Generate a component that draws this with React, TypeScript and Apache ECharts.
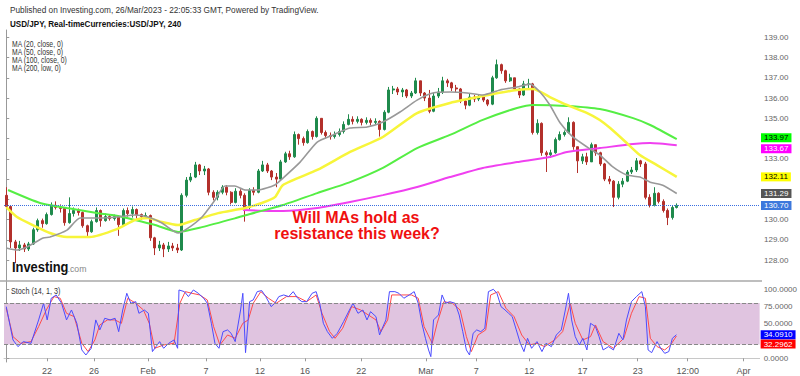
import { useEffect, useRef } from 'react';
import * as echarts from 'echarts';

// ---- Data (8-hour bars; bar index 0 = first bar) ----
const firstOpen = 131.2;
const closes = [
  130.65, 128.9, 128.6, 128.75, 128.55, 128.8, 129.5, 129.95, 129.8, 130.25,
  130.7, 130.6, 130.55, 129.85, 130.3, 130.45, 130.35, 129.7, 129.4, 129.9,
  130.45, 129.95, 130.15, 130.05, 130.15, 129.75, 130.45, 130.3, 130.5, 130.25,
  130.15, 130.2, 129.1, 128.6, 128.75, 128.55, 128.7, 128.6, 128.5, 131.2,
  131.95, 132.1, 132.7, 132.4, 132.5, 131.35, 131.1, 131.35, 131.6, 131.35,
  130.85, 131.4, 131.2, 130.6, 131.45, 131.35, 132.4, 132.7, 132.4, 132.1,
  132.0, 132.85, 133.25, 133.1, 134.2, 134.0, 133.8, 134.35, 134.1, 135.0,
  134.3, 134.15, 134.1, 134.2, 134.35, 134.7, 134.95, 134.85, 134.95, 134.8,
  134.9, 134.8, 134.85, 134.45, 135.3, 136.4, 136.45, 136.3, 136.4, 136.1,
  136.25, 136.85, 136.25, 136.0, 135.35, 136.1, 136.3, 136.85, 136.75, 136.5,
  136.45, 135.85, 135.65, 136.05, 135.95, 136.05, 135.9, 135.7, 137.0, 137.65,
  137.35, 136.85, 137.0, 136.45, 136.15, 136.7, 136.7, 134.3, 134.75, 133.3,
  133.2, 133.3, 133.95, 134.2, 134.3, 134.8, 133.6, 132.9, 133.1, 132.85,
  133.7, 133.3, 132.75, 132.0, 131.9, 131.1, 131.75, 131.9, 132.35, 132.45,
  132.9, 132.75, 131.1, 130.7, 131.3, 130.9, 130.45, 130.1, 130.6, 130.7,
];
const highs = [
  131.6, 130.7, 129.0, 128.95, 128.85, 128.9, 129.6, 130.05, 130.05, 130.35,
  130.85, 130.9, 130.75, 130.6, 131.1, 130.6, 130.55, 130.4, 129.75, 130.0,
  130.6, 130.5, 130.3, 130.25, 130.25, 130.2, 130.55, 130.6, 130.65, 130.55,
  130.3, 130.35, 130.25, 129.15, 128.95, 128.85, 128.9, 128.85, 128.8, 131.3,
  132.1, 132.3, 132.85, 132.75, 132.65, 132.55, 131.45, 131.45, 131.7, 131.7,
  131.4, 131.55, 131.5, 131.3, 131.55, 131.6, 132.5, 132.9, 132.8, 132.45,
  132.3, 132.95, 133.35, 133.4, 134.35, 134.25, 134.1, 134.45, 134.4, 135.1,
  135.0, 134.4, 134.3, 134.35, 134.5, 134.85, 135.2, 135.1, 135.1, 135.0,
  135.05, 135.0, 135.0, 134.9, 135.4, 136.55, 136.6, 136.55, 136.5, 136.45,
  136.35, 137.0, 136.85, 136.3, 136.4, 136.25, 136.5, 137.05, 136.95, 136.8,
  136.65, 136.5, 135.95, 136.2, 136.15, 136.2, 136.1, 135.95, 137.1, 137.9,
  137.7, 137.4, 137.2, 137.0, 136.5, 136.85, 136.95, 136.75, 134.95, 134.8,
  133.4, 133.45, 134.05, 134.35, 134.4, 135.05, 134.85, 133.6, 133.25, 133.3,
  133.8, 133.7, 133.35, 132.8, 132.15, 131.95, 131.9, 132.05, 132.45, 132.6,
  133.04, 132.95, 132.85, 131.25, 131.6, 131.35, 131.0, 130.55, 130.7, 130.8,
];
const lows = [
  130.55, 128.6, 127.85, 128.45, 128.4, 128.45, 128.75, 129.4, 129.6, 129.75,
  130.2, 130.5, 130.35, 129.7, 129.8, 130.15, 130.2, 129.6, 129.1, 129.35,
  129.85, 129.65, 129.9, 129.95, 129.95, 129.2, 129.7, 130.15, 130.1, 130.05,
  130.0, 130.05, 128.95, 128.25, 128.45, 128.15, 128.4, 128.45, 128.35, 128.45,
  131.1, 131.85, 132.05, 132.2, 132.2, 131.2, 130.95, 130.95, 131.25, 131.2,
  130.75, 130.8, 131.05, 129.9, 130.5, 131.2, 131.3, 132.35, 132.3, 131.95,
  131.6, 131.95, 132.8, 132.95, 133.05, 133.7, 133.65, 133.75, 133.95, 134.05,
  134.2, 134.0, 133.95, 134.0, 134.1, 134.25, 134.65, 134.7, 134.75, 134.65,
  134.7, 134.65, 134.7, 134.1, 134.4, 135.25, 136.2, 136.15, 136.05, 136.0,
  136.0, 136.2, 136.1, 135.85, 135.25, 135.3, 136.0, 136.2, 136.55, 136.35,
  136.3, 135.75, 135.45, 135.6, 135.8, 135.85, 135.8, 135.6, 135.65, 136.95,
  137.2, 136.75, 136.8, 136.35, 136.0, 136.1, 136.45, 134.2, 134.2, 133.15,
  132.35, 133.05, 133.25, 133.9, 134.1, 134.25, 133.45, 132.3, 132.75, 132.7,
  132.85, 133.15, 132.65, 131.9, 131.75, 130.62, 131.0, 131.6, 131.85, 132.25,
  132.35, 132.6, 131.0, 130.6, 130.65, 130.8, 130.35, 129.73, 130.0, 130.55,
];

// Moving averages: [bar index, value]
const ma20: [number, number][] = [
  [0, 128.6], [2.4, 128.5], [4.6, 128.65], [8.2, 129.09], [9.7, 129.14], [13.5, 129.48],
  [16.4, 130.08], [20.8, 130.08], [24.6, 130.13], [28.6, 130.23], [31.5, 130.13],
  [34.6, 129.83], [38.2, 129.34], [40.4, 129.58], [43.5, 130.13], [46.4, 130.97],
  [48.6, 131.66], [50.8, 131.66], [53.1, 131.46], [55.9, 131.46], [59.7, 131.71],
  [61.5, 132.05], [65.3, 132.84], [69.1, 133.83], [72.6, 134.18], [76.4, 134.52],
  [80.2, 134.57], [83.7, 134.82], [87.5, 135.31], [91.3, 135.9], [94.8, 136.25],
  [98.6, 136.3], [102.4, 136.25], [105.9, 136.15], [109.7, 136.4], [113.5, 136.55],
  [116.4, 136.69], [118.6, 136.3], [120.8, 135.66], [123.1, 134.77], [125.9, 134.08],
  [129.1, 133.58], [131.9, 133.19], [134.8, 132.6], [137.9, 132.2], [140.8, 132.1],
  [143.1, 131.85], [145.9, 131.7], [149, 131.29],
];
const ma50: [number, number][] = [
  [0, 130.62], [2.4, 130.13], [5.9, 129.73], [9.7, 129.34], [13.5, 129.14], [18.6, 129.14],
  [24.6, 129.53], [28.6, 129.98], [31.5, 130.08], [34.6, 129.88], [38.2, 129.73],
  [41.9, 129.98], [47.1, 130.32], [53.1, 130.57], [56.8, 130.82], [59.7, 131.11],
  [61.5, 131.71], [69.1, 132.45], [76.4, 133.34], [83.7, 134.08], [91.3, 135.26],
  [98.6, 135.76], [105.9, 136.1], [113.5, 136.4], [117.1, 136.45], [120.8, 136.05],
  [124.6, 135.66], [129.1, 135.26], [131.9, 134.92], [134.2, 134.52], [137.9, 133.78],
  [140.8, 133.19], [144.6, 132.69], [149, 132.11],
];
const ma100: [number, number][] = [
  [0.4, 131.46], [7.5, 130.82], [13.5, 130.57], [20.8, 130.3], [24.2, 130.2],
  [28.6, 129.98], [33.1, 129.73], [38.2, 129.39], [43.5, 129.63], [50.8, 130.06],
  [54.2, 130.28], [61.5, 130.72], [69.1, 131.31], [76.4, 131.85], [83.7, 132.55],
  [91.3, 133.53], [98.6, 134.18], [105.9, 134.92], [113.5, 135.51], [117.1, 135.66],
  [124.6, 135.61], [131.9, 135.46], [139.3, 135.01], [143.1, 134.67], [149, 133.97],
];
const ma200: [number, number][] = [
  [52.6, 130.47], [61.5, 130.42], [69.1, 130.57], [76.4, 130.87], [83.7, 131.21],
  [91.3, 131.61], [98.6, 132.1], [105.9, 132.55], [113.5, 132.84], [120.8, 133.09],
  [124.6, 133.34], [131.9, 133.53], [139.3, 133.73], [143.1, 133.78], [149, 133.67],
];

// Stochastic (14, 1, 3): %K (blue) and %D (red), [bar index, value]
const stochK: [number, number][] = [
  [0, 74.9], [1.5, 26.6], [2.6, 16.9], [3.8, 24.2], [5.5, 21.7], [7.2, 55.6], [8.3, 79.7],
  [9.1, 55.6], [10, 87.0], [11.1, 91.8], [12.3, 79.7], [13.4, 55.6], [14.5, 70.0],
  [15.7, 50.7], [16.8, 12.1], [17.7, 4.8], [18.9, 14.5], [19.9, 55.6], [20.8, 41.1],
  [21.9, 58.0], [23.1, 55.6], [24.2, 58.0], [25, 38.6], [25.9, 70.0], [26.8, 94.2],
  [27.7, 79.7], [28.8, 82.1], [29.5, 65.2], [30.7, 70.0], [31.6, 65.2], [32.5, 9.7],
  [33.3, 16.9], [34.1, 24.2], [35, 14.5], [36.1, 21.7], [37.3, 26.6], [38.1, 14.5],
  [38.4, 99.0], [39.6, 96.6], [40.5, 89.4], [41.6, 99.0], [42.7, 94.2], [43.9, 87.0],
  [44.7, 79.7], [45.6, 50.7], [46.4, 21.7], [47.3, 14.5], [48.2, 38.6], [49.2, 41.1],
  [50, 36.2], [50.9, 24.2], [52.1, 70.0], [52.6, 94.2], [53.2, 8.2], [54.1, 82.1],
  [54.9, 84.5], [55.8, 96.6], [56.8, 98.1], [57.7, 89.4], [58.9, 74.9], [59.7, 79.7],
  [60.6, 89.4], [61.7, 91.8], [62.8, 89.4], [63.8, 96.6], [64.8, 87.0], [65.7, 82.1],
  [66.8, 82.1], [68, 94.2], [68.9, 96.6], [69.7, 79.7], [70.5, 50.7], [71.4, 38.6],
  [72.5, 29.0], [73.6, 36.2], [75, 53.1], [76.3, 70.0], [77.1, 79.7], [78.2, 65.2],
  [79.3, 70.0], [80.2, 55.6], [81, 67.6], [82.2, 60.4], [83, 33.8], [83.6, 43.5],
  [84.4, 55.6], [85.2, 96.6], [86.4, 96.6], [87.3, 94.2], [88.4, 87.0], [89.6, 91.8],
  [90.7, 96.6], [91.6, 79.7], [92.4, 50.7], [93.2, 29.0], [93.9, 12.1], [94.4, 2.4],
  [95, 55.6], [96.1, 62.8], [96.9, 91.8], [97.7, 79.7], [98.6, 82.1], [99.8, 79.7],
  [100.7, 62.8], [101.5, 38.6], [102.3, 12.1], [103, 4.8], [103.8, 36.2], [104.6, 41.1],
  [105.5, 38.6], [106.4, 43.5], [107.2, 96.6], [108.3, 100], [109.1, 94.2], [110, 74.9],
  [110.9, 70.0], [111.7, 65.2], [112.5, 60.4], [113.4, 41.1], [114.3, 21.7], [115.1, 9.7],
  [115.9, 29.0], [116.8, 14.5], [118, 24.2], [119.1, 9.7], [120, 21.7], [121.2, 16.9],
  [122.3, 33.8], [123.4, 41.1], [124.3, 70.0], [125, 94.2], [125.7, 55.6], [126.5, 31.4],
  [127.4, 19.3], [128.2, 29.0], [129.1, 12.1], [129.9, 50.7], [131, 45.9], [131.8, 31.4],
  [132.7, 12.1], [133.9, 16.9], [135, 12.1], [136.2, 36.2], [137.1, 26.6], [137.9, 55.6],
  [139, 82.1], [140.1, 89.4], [141.3, 96.6], [142.1, 74.9], [142.7, 12.1], [143.5, 8.2],
  [144.7, 24.2], [145.5, 14.5], [146.4, 7.2], [147.3, 9.7], [148.1, 29.0], [149, 34.091],
];
const stochD: [number, number][] = [
  [0, 72.5], [1.5, 31.4], [3.2, 21.7], [5.5, 24.2], [7.2, 45.9], [8.9, 70.0], [10.6, 89.4],
  [12, 87.0], [13.4, 65.2], [15.1, 60.4], [16.8, 21.7], [18.2, 9.7], [19.7, 26.6],
  [20.8, 48.3], [22.5, 55.6], [24.2, 55.6], [25.6, 50.7], [27, 87.0], [28.8, 79.7],
  [30.5, 70.0], [31.8, 50.7], [33, 14.5], [35, 19.3], [37.3, 21.7], [38.6, 79.7],
  [39.8, 96.6], [41.3, 94.2], [43, 91.8], [44.7, 84.5], [46.1, 45.9], [47.5, 19.3],
  [49.2, 33.8], [50.9, 29.0], [52.6, 50.7], [53.8, 55.6], [54.9, 79.7], [56.6, 96.6],
  [58.3, 87.0], [60, 79.7], [62.3, 89.4], [64.6, 89.4], [66.8, 82.1], [68.9, 91.8],
  [70.2, 65.2], [71.9, 38.6], [73.1, 29.0], [74.8, 43.5], [76.8, 74.9], [78.8, 70.0],
  [80.5, 62.8], [82.2, 55.6], [83.3, 38.6], [84.8, 55.6], [85.7, 91.8], [87.9, 91.8],
  [90.1, 91.8], [91.6, 87.0], [92.9, 45.9], [94.7, 21.7], [95.8, 50.7], [97.3, 82.1],
  [99.2, 79.7], [100.9, 70.0], [102.3, 31.4], [103.4, 9.7], [104.9, 33.8], [106.6, 41.1],
  [107.7, 91.8], [109.4, 96.6], [111.1, 72.5], [112.9, 60.4], [114.6, 33.8], [116.3, 19.3],
  [118, 21.7], [119.7, 16.9], [121.9, 26.6], [123.7, 38.6], [125.4, 79.7], [126.5, 50.7],
  [128.2, 26.6], [129.9, 31.4], [131, 48.3], [132.7, 24.2], [135, 14.5], [137.3, 29.0],
  [139, 65.2], [140.7, 89.4], [142.1, 87.0], [143.2, 29.0], [144.7, 16.9], [146.4, 12.1],
  [147.7, 19.3], [149, 32.2962],
];

const slotCount = 168;
const xTickPos = [9.06, 19.5, 31.5, 44.4, 56.4, 66.4, 78.9, 93.3, 104.5, 116.3, 128.1, 140.4, 151.5, 163.9];
const xTickLabels = ['22', '26', 'Feb', '7', '12', '16', '22', 'Mar', '7', '12', '17', '23', '12:00', 'Apr'];
const priceTickMarks = [128, 129, 130, 131, 132, 133, 134, 135, 136, 137, 138, 139];
const priceTickLabels = [128, 129, 130, 133, 135, 136, 137, 138, 139];
const stochTicks = [0, 50, 75, 100];
const lastPrice = 130.7;
const lastMa20 = 131.29;
const lastMa50 = 132.11;
const lastMa100 = 133.97;
const lastMa200 = 133.67;
const lastK = 34.091;
const lastD = 32.2962;
const bandLow = 20;
const bandHigh = 80;

const FONT = "'Liberation Sans', Arial, sans-serif";

function badge(value: number, text: string, bg: string, fg: string, lineColor: string, lineType: string, offsetY = 0) {
  return {
    yAxis: value,
    lineStyle: { color: lineColor, type: lineType, width: 1 },
    label: {
      show: true,
      position: 'end',
      formatter: text,
      distance: 1,
      offset: [0, offsetY],
      backgroundColor: bg,
      color: fg,
      fontSize: 8,
      lineHeight: 9,
      fontFamily: FONT,
      padding: [0, 3, 0, 3],
    },
  };
}

function txt(x: number, y: number, text: string, size: number, opts: any = {}) {
  return {
    type: 'text',
    x,
    y,
    scaleX: opts.scaleX ?? 0.87,
    silent: true,
    z: 50,
    style: {
      text,
      x: 0,
      y: 0,
      fontSize: size,
      fontFamily: FONT,
      fontWeight: opts.bold ? 'bold' : 'normal',
      fill: opts.fill ?? '#333',
      align: opts.align ?? 'left',
      verticalAlign: 'middle',
    },
  };
}

const CLEAR = 'rgba(0,0,0,0)';

export default function App() {
  const ref = useRef<HTMLDivElement>(null);
  useEffect(() => {
    if (!ref.current) return;
    const chart = echarts.init(ref.current, null, { renderer: 'svg' });
    const candles = closes.map((c, i) => [i === 0 ? firstOpen : closes[i - 1], c, lows[i], highs[i]]);
    const cats = Array.from({ length: slotCount }, (_, i) => String(i));
    const labelFor = (v: number) => {
      const k = xTickPos.findIndex((p) => Math.abs(p - v) < 0.01);
      return k >= 0 ? xTickLabels[k] : '';
    };
    const maLine = (data: [number, number][], color: string, width: number) => ({
      type: 'line',
      xAxisIndex: 1,
      yAxisIndex: 0,
      data,
      symbol: 'none',
      smooth: 0.2,
      z: 3,
      lineStyle: { color, width },
    });
    chart.setOption({
      animation: false,
      backgroundColor: '#ffffff',
      grid: [
        { left: 4, right: 40, top: 30, height: 251 },
        { left: 4, right: 40, top: 281, height: 81 },
      ],
      xAxis: [
        { type: 'category', gridIndex: 0, data: cats, boundaryGap: true, show: false },
        { type: 'value', gridIndex: 0, min: -0.5, max: slotCount - 0.5, show: false },
        {
          type: 'value',
          gridIndex: 1,
          min: -0.5,
          max: slotCount - 0.5,
          axisLine: { show: true, lineStyle: { color: '#c8c8c8' } },
          axisTick: { show: true, customValues: xTickPos, length: 3, lineStyle: { color: '#999' } },
          axisLabel: {
            customValues: xTickPos,
            formatter: (v: number) => labelFor(v),
            fontSize: 9,
            fontFamily: FONT,
            color: '#555',
            margin: 4,
          },
          splitLine: { show: false },
        },
      ],
      yAxis: [
        {
          type: 'value',
          gridIndex: 0,
          position: 'right',
          min: 126.97,
          max: 139.36,
          axisLine: { show: true, lineStyle: { color: '#999' } },
          axisTick: { show: true, customValues: priceTickMarks, length: 3, lineStyle: { color: '#999' } },
          axisLabel: {
            customValues: priceTickLabels,
            formatter: (v: number) => v.toFixed(2),
            fontSize: 8,
            fontFamily: FONT,
            color: '#666',
            margin: 4,
          },
          splitLine: { show: false },
        },
        {
          type: 'value',
          gridIndex: 1,
          position: 'right',
          min: -5.36,
          max: 112,
          axisLine: { show: true, lineStyle: { color: '#999' } },
          axisTick: { show: true, customValues: stochTicks, length: 3, lineStyle: { color: '#999' } },
          axisLabel: {
            customValues: stochTicks,
            formatter: (v: number) => v.toFixed(4),
            fontSize: 8,
            fontFamily: FONT,
            color: '#666',
            margin: 4,
          },
          splitLine: { show: false },
        },
      ],
      series: [
        {
          type: 'candlestick',
          xAxisIndex: 0,
          yAxisIndex: 0,
          data: candles,
          barWidth: 2.6,
          z: 2,
          itemStyle: {
            color: '#1f8a4c',
            color0: '#b3302b',
            borderColor: '#1f8a4c',
            borderColor0: '#b3302b',
            borderWidth: 1,
          },
          markLine: {
            silent: true,
            symbol: ['none', 'none'],
            z: 4,
            data: [badge(lastPrice, lastPrice.toFixed(2), '#3d78dc', '#ffffff', '#3a6fe0', 'dotted')],
          },
        },
        maLine(ma200, '#f040f0', 2),
        maLine(ma100, '#55ee44', 2),
        maLine(ma50, '#f7f53a', 2.5),
        {
          ...maLine(ma20, '#999999', 1.6),
          markLine: {
            silent: true,
            symbol: ['none', 'none'],
            z: 5,
            data: [
              badge(lastMa100, lastMa100.toFixed(2), '#00ff00', '#000000', CLEAR, 'solid', -1.5),
              badge(lastMa200, lastMa200.toFixed(2), '#ff00ff', '#ffffff', CLEAR, 'solid', 3.5),
              badge(lastMa50, lastMa50.toFixed(2), '#ffff00', '#000000', CLEAR, 'solid'),
              badge(lastMa20, lastMa20.toFixed(2), '#555555', '#ffffff', CLEAR, 'solid'),
            ],
          },
        },
        {
          type: 'line',
          xAxisIndex: 2,
          yAxisIndex: 1,
          data: stochD,
          symbol: 'none',
          z: 3,
          lineStyle: { color: '#ff4a4a', width: 1 },
          markLine: {
            silent: true,
            symbol: ['none', 'none'],
            z: 6,
            data: [badge(lastD, lastD.toFixed(4), '#ff0000', '#ffffff', CLEAR, 'solid', 8)],
          },
        },
        {
          type: 'line',
          xAxisIndex: 2,
          yAxisIndex: 1,
          data: stochK,
          symbol: 'none',
          z: 4,
          lineStyle: { color: '#4b4bff', width: 1 },
          markArea: {
            silent: true,
            itemStyle: { color: '#e0c4e0' },
            data: [[{ yAxis: bandLow }, { yAxis: bandHigh }]],
          },
          markLine: {
            silent: true,
            symbol: ['none', 'none'],
            z: 6,
            data: [
              { yAxis: bandLow, lineStyle: { color: '#888', type: 'dashed', width: 1 }, label: { show: false } },
              { yAxis: bandHigh, lineStyle: { color: '#888', type: 'dashed', width: 1 }, label: { show: false } },
              badge(lastK, lastK.toFixed(4), '#0000ff', '#ffffff', CLEAR, 'solid'),
            ],
          },
        },
      ],
      graphic: [
        {
          type: 'line',
          silent: true,
          z: 40,
          shape: { x1: 0, y1: 281, x2: 762, y2: 281 },
          style: { stroke: '#a8a8a8', lineWidth: 1.5 },
        },
        txt(10, 10, 'Published on Investing.com, 26/Mar/2023 - 22:05:33 GMT, Powered by TradingView.', 9.5),
        txt(10, 24, 'USD/JPY, Real-timeCurrencies:USD/JPY, 240', 9, { bold: true, fill: '#111', scaleX: 0.9 }),
        txt(12, 44, 'MA (20, close, 0)', 8.5, { scaleX: 0.8 }),
        txt(12, 52.3, 'MA (50, close, 0)', 8.5, { scaleX: 0.8 }),
        txt(12, 60.5, 'MA (100, close, 0)', 8.5, { scaleX: 0.8 }),
        txt(12, 68.7, 'MA (200, low, 0)', 8.5, { scaleX: 0.8 }),
        txt(11, 291, 'Stoch (14, 1, 3)', 8.5, { scaleX: 0.85 }),
        txt(12, 267, 'Investing', 14, { bold: true, fill: '#111', scaleX: 0.92 }),
        txt(67.5, 269, '.com', 9.5, { fill: '#888', scaleX: 0.92 }),
        txt(356, 217, 'Will MAs hold as', 16, { bold: true, fill: '#f01010', align: 'center', scaleX: 1.0 }),
        txt(357, 233.5, 'resistance this week?', 16, { bold: true, fill: '#f01010', align: 'center', scaleX: 1.0 }),
      ],
    });
    return () => chart.dispose();
  }, []);
  return <div ref={ref} style={{ width: 800, height: 376, position: 'absolute', left: 0, top: 0 }} />;
}
